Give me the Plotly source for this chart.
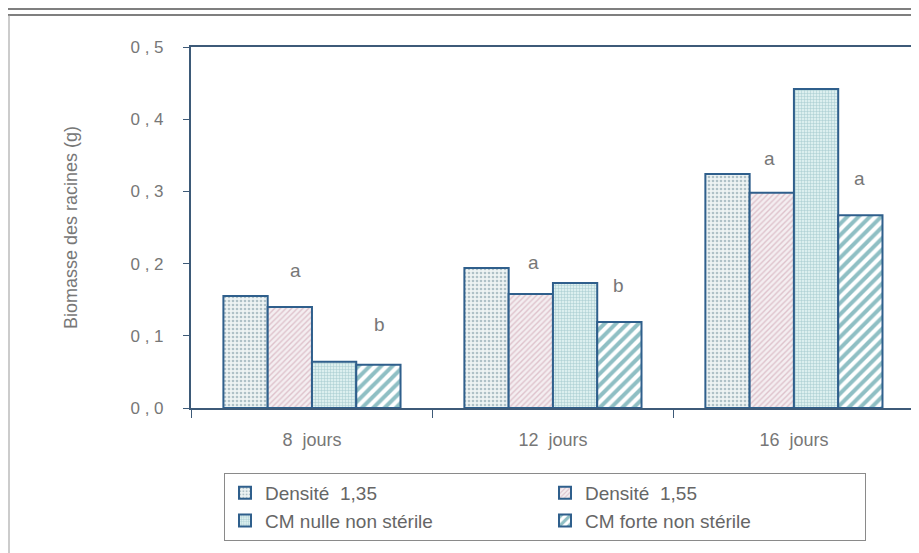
import plotly.graph_objects as go

# data
jours = ["8\u00a0 jours", "12\u00a0 jours", "16\u00a0 jours"]
densite_135 = [0.155, 0.194, 0.324]
densite_155 = [0.140, 0.158, 0.298]
cm_nulle = [0.064, 0.173, 0.442]
cm_forte = [0.060, 0.119, 0.267]

# significance letters (x as category index + offset, y in g)
lettres = ["a", "b", "a", "b", "a", "a"]
lettres_x = [-0.07, 0.28, 0.92, 1.27, 1.90, 2.27]
lettres_y = [0.191, 0.115, 0.202, 0.170, 0.346, 0.318]

y_ticks = [0, 0.1, 0.2, 0.3, 0.4, 0.5]
y_ticktext = ["0 , 0", "0 , 1", "0 , 2", "0 , 3", "0 , 4", "0 , 5"]

series = [
    ("Densité\u00a0 1,35", densite_135, dict(shape=".", fgcolor="#6f8f9c", bgcolor="#eef3f3", size=4, solidity=0.35)),
    ("Densité\u00a0 1,55", densite_155, dict(shape="/", fgcolor="#c795a6", bgcolor="#f4eef1", size=4, solidity=0.35)),
    ("CM nulle non stérile", cm_nulle, dict(shape="+", fgcolor="#6aa3ad", bgcolor="#dcefef", size=3, solidity=0.3)),
    ("CM forte non stérile", cm_forte, dict(shape="/", fgcolor="#1f7f8a", bgcolor="#ffffff", size=8, solidity=0.5)),
]

outline = "#2f5f8c"
grey = "#777777"
font = "Liberation Sans, Arial, sans-serif"

# page body adds an 8px margin, so the figure is 8px smaller than the window
OFF = 8
FW, FH = 919 - OFF, 553 - OFF
L, T = 191 - OFF, 47 - OFF
W, H = FW - L, 361

def px(x):  # window pixel -> paper x
    return (x - OFF - L) / W

def py(y):  # window pixel -> paper y
    return (T + H - (y - OFF)) / H

fig = go.Figure()
for name, vals, pat in series:
    fig.add_trace(go.Bar(
        name=name, x=jours, y=vals,
        marker=dict(color=pat["bgcolor"], pattern=pat,
                    line=dict(color=outline, width=2))))

for t, x, y in zip(lettres, lettres_x, lettres_y):
    fig.add_annotation(x=x, y=y, text=t, showarrow=False,
                       font=dict(size=19, color=grey, family=font))

# scan frame: double line at the top, single line on the left
frame = dict(color="#555555", width=1.5)
fig.add_shape(type="line", xref="paper", yref="paper", x0=px(8), x1=px(919), y0=py(9), y1=py(9), line=frame)
fig.add_shape(type="line", xref="paper", yref="paper", x0=px(8), x1=px(919), y0=py(15), y1=py(15), line=frame)
fig.add_shape(type="line", xref="paper", yref="paper", x0=px(9), x1=px(9), y0=py(15), y1=py(553),
              line=dict(color="#999999", width=1))

fig.update_layout(
    width=FW, height=FH,
    margin=dict(l=L, r=0, t=T, b=FH - T - H, autoexpand=False),
    paper_bgcolor="white", plot_bgcolor="white",
    barmode="group", bargap=0.265, bargroupgap=0,
    font=dict(family=font, color=grey, size=17),
    legend=dict(orientation="h", x=px(224), y=py(473), xanchor="left", yanchor="top",
                entrywidth=275, entrywidthmode="pixels",
                bordercolor="#8a8a8a", borderwidth=1, bgcolor="white",
                font=dict(size=19, color="#666666", family=font),
                itemwidth=30),
    xaxis=dict(range=[-0.502, 2.519], showline=True, linecolor="#3d5a78", linewidth=2,
               mirror=True, ticks="outside", tickson="boundaries", ticklen=8,
               tickcolor="#3d5a78", showgrid=False, ticklabelstandoff=14,
               tickfont=dict(size=18, color=grey)),
    yaxis=dict(range=[0, 0.5], tickvals=y_ticks, ticktext=y_ticktext,
               showline=True, linecolor="#3d5a78", linewidth=2, ticks="outside",
               ticklen=6, tickcolor="#3d5a78", showgrid=False, zeroline=False,
               ticklabelstandoff=16, tickfont=dict(size=17, color=grey),
               title=dict(text="Biomasse des racines (g)", standoff=48,
                          font=dict(size=18, color=grey))),
)

fig.write_html("out.html")
